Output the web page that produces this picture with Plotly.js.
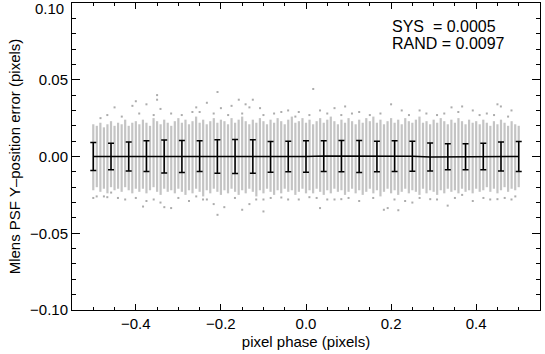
<!DOCTYPE html>
<html>
<head>
<meta charset="utf-8">
<script src="https://cdn.plot.ly/plotly-3.0.1.min.js"></script>
<style>
  html, body { margin: 0; padding: 0; background: #fff; }
  #plot { width: 545px; height: 354px; }
</style>
</head>
<body>
<div id="plot"></div>
<script>
// PSF Y-position error vs pixel phase

// binned means with error bars
var barX = [-0.5, -0.4583, -0.4167, -0.375, -0.3333, -0.2917, -0.25, -0.2083, -0.1667, -0.125, -0.0833, -0.0417,
    0, 0.0417, 0.0833, 0.125, 0.1667, 0.2083, 0.25, 0.2917, 0.3333, 0.375, 0.4167, 0.4583, 0.5];
var barMean = [0, 0, 0, 0.0002, 0, 0, 0.0002, 0, 0, 0, -0.0002, 0,
    0, 0.0003, 0.0003, 0, 0, 0.0003, 0.0002, -0.0003, -0.0002, -0.0002, 0, 0, 0];
var barErr = [0.0091, 0.0087, 0.0094, 0.0100, 0.0107, 0.0104, 0.0100, 0.0109, 0.0111, 0.0109, 0.0100, 0.0100,
    0.0102, 0.0100, 0.0102, 0.0104, 0.0100, 0.0100, 0.0098, 0.0091, 0.0085, 0.0085, 0.0087, 0.0094, 0.0098];

// gray columns of individual measurements (dense extent per phase)
var colX = [
    -0.5, -0.4917, -0.4833, -0.475, -0.4667, -0.4583,
    -0.45, -0.4417, -0.4333, -0.425, -0.4167, -0.4083,
    -0.4, -0.3917, -0.3833, -0.375, -0.3667, -0.3583,
    -0.35, -0.3417, -0.3333, -0.325, -0.3167, -0.3083,
    -0.3, -0.2917, -0.2833, -0.275, -0.2667, -0.2583,
    -0.25, -0.2417, -0.2333, -0.225, -0.2167, -0.2083,
    -0.2, -0.1917, -0.1833, -0.175, -0.1667, -0.1583,
    -0.15, -0.1417, -0.1333, -0.125, -0.1167, -0.1083,
    -0.1, -0.0917, -0.0833, -0.075, -0.0667, -0.0583,
    -0.05, -0.0417, -0.0333, -0.025, -0.0167, -0.0083,
    0, 0.0083, 0.0167, 0.025, 0.0333, 0.0417,
    0.05, 0.0583, 0.0667, 0.075, 0.0833, 0.0917,
    0.1, 0.1083, 0.1167, 0.125, 0.1333, 0.1417,
    0.15, 0.1583, 0.1667, 0.175, 0.1833, 0.1917,
    0.2, 0.2083, 0.2167, 0.225, 0.2333, 0.2417,
    0.25, 0.2583, 0.2667, 0.275, 0.2833, 0.2917,
    0.3, 0.3083, 0.3167, 0.325, 0.3333, 0.3417,
    0.35, 0.3583, 0.3667, 0.375, 0.3833, 0.3917,
    0.4, 0.4083, 0.4167, 0.425, 0.4333, 0.4417,
    0.45, 0.4583, 0.4667, 0.475, 0.4833, 0.4917,
    0.5];
var colHi = [
    0.021, 0.020, 0.022, 0.019, 0.021, 0.023, 0.020, 0.022, 0.021, 0.024, 0.020, 0.022, 0.023,
    0.021, 0.024, 0.022, 0.020, 0.025, 0.023, 0.021, 0.024, 0.022, 0.020, 0.023, 0.025,
    0.022, 0.024, 0.021, 0.023, 0.026, 0.022, 0.024, 0.021, 0.023, 0.025, 0.022, 0.024,
    0.023, 0.021, 0.025, 0.022, 0.024, 0.026, 0.023, 0.021, 0.024, 0.022, 0.025, 0.023,
    0.021, 0.024, 0.022, 0.025, 0.023, 0.021, 0.024, 0.026, 0.022, 0.023, 0.025, 0.022,
    0.024, 0.021, 0.023, 0.025, 0.022, 0.024, 0.026, 0.023, 0.021, 0.024, 0.022, 0.025,
    0.023, 0.021, 0.024, 0.022, 0.025, 0.023, 0.026, 0.022, 0.024, 0.021, 0.023, 0.025,
    0.022, 0.024, 0.021, 0.025, 0.023, 0.022, 0.024, 0.026, 0.022, 0.023, 0.021, 0.024,
    0.022, 0.025, 0.023, 0.021, 0.024, 0.022, 0.025, 0.023, 0.021, 0.024, 0.022, 0.023,
    0.021, 0.024, 0.022, 0.020, 0.023, 0.021, 0.024, 0.022, 0.020, 0.023, 0.021, 0.020];
var colLo = [
    -0.022, -0.020, -0.023, -0.021, -0.024, -0.020, -0.022, -0.021, -0.023, -0.020, -0.022, -0.024, -0.021,
    -0.023, -0.021, -0.024, -0.022, -0.020, -0.023, -0.025, -0.021, -0.023, -0.022, -0.024, -0.021,
    -0.023, -0.025, -0.022, -0.024, -0.021, -0.023, -0.026, -0.022, -0.024, -0.021, -0.023, -0.025,
    -0.022, -0.024, -0.021, -0.023, -0.025, -0.022, -0.024, -0.021, -0.023, -0.026, -0.022, -0.024,
    -0.021, -0.023, -0.025, -0.022, -0.024, -0.021, -0.023, -0.022, -0.025, -0.023, -0.021, -0.024,
    -0.022, -0.024, -0.021, -0.023, -0.025, -0.022, -0.024, -0.021, -0.023, -0.022, -0.025, -0.023,
    -0.021, -0.024, -0.022, -0.025, -0.023, -0.021, -0.024, -0.022, -0.026, -0.023, -0.021, -0.024,
    -0.022, -0.025, -0.023, -0.021, -0.024, -0.022, -0.023, -0.025, -0.021, -0.024, -0.022, -0.023,
    -0.025, -0.022, -0.024, -0.021, -0.023, -0.022, -0.024, -0.021, -0.023, -0.022, -0.024, -0.021,
    -0.023, -0.022, -0.020, -0.023, -0.021, -0.024, -0.022, -0.020, -0.023, -0.021, -0.022, -0.020];

// scattered points outside the dense band
var outTopX = [-0.45, -0.408, -0.4, -0.375, -0.35, -0.35, -0.342, -0.258, -0.25, -0.233, -0.208, -0.2,
    -0.175, -0.158, -0.142, -0.133, -0.125, -0.108, -0.058, -0.042, -0.017, 0.017, 0.033, 0.067,
    0.092, 0.125, 0.2, 0.225, 0.267, 0.342, 0.367, 0.392, 0.45, 0.458, 0.483,
    -0.483, -0.467, -0.433, -0.392, -0.358, -0.317, -0.292, -0.267, -0.217, -0.183, -0.15, -0.1,
    -0.075, -0.025, 0.008, 0.05, 0.083, 0.108, 0.15, 0.175, 0.242, 0.283, 0.308, 0.325,
    0.358, 0.408, 0.425, 0.442, 0.475];
var outTopY = [0.032, 0.033, 0.036, 0.034, 0.040, 0.037, 0.031, 0.032, 0.029, 0.035, 0.042, 0.0315,
    0.033, 0.037, 0.034, 0.032, 0.037, 0.0315, 0.029, 0.030, 0.029, 0.044, 0.030, 0.0315,
    0.0326, 0.029, 0.034, 0.030, 0.030, 0.032, 0.0326, 0.030, 0.034, 0.0326, 0.030,
    0.025, 0.027, 0.026, 0.028, 0.027, 0.028, 0.027, 0.029, 0.028, 0.027, 0.028, 0.027,
    0.028, 0.026, 0.027, 0.028, 0.027, 0.028, 0.027, 0.028, 0.027, 0.028, 0.027, 0.028,
    0.029, 0.027, 0.028, 0.027, 0.026];
var outBotX = [-0.5, -0.492, -0.467, -0.458, -0.383, -0.375, -0.342, -0.333, -0.317, -0.258, -0.242, -0.217,
    -0.208, -0.192, -0.15, -0.133, -0.1, -0.1, -0.058, -0.017, 0.008, 0.033, 0.067, 0.083,
    0.183, 0.192, 0.217, 0.25, 0.292, 0.333, 0.367, 0.45, 0.483, 0.492,
    -0.475, -0.442, -0.425, -0.4, -0.358, -0.3, -0.275, -0.233, -0.167, -0.117, -0.083, -0.042,
    0.025, 0.05, 0.1, 0.125, 0.158, 0.208, 0.233, 0.267, 0.308, 0.35, 0.392, 0.417, 0.433, 0.467];
var outBotY = [-0.027, -0.026, -0.0265, -0.0235, -0.0326, -0.029, -0.030, -0.033, -0.0336, -0.026, -0.028, -0.031,
    -0.038, -0.033, -0.0347, -0.031, -0.0358, -0.028, -0.0267, -0.028, -0.0265, -0.0336, -0.028, -0.0278,
    -0.0347, -0.0336, -0.035, -0.030, -0.0278, -0.032, -0.025, -0.0278, -0.028, -0.026,
    -0.026, -0.027, -0.028, -0.027, -0.028, -0.027, -0.029, -0.028, -0.027, -0.028, -0.027, -0.028,
    -0.027, -0.028, -0.027, -0.029, -0.027, -0.028, -0.029, -0.027, -0.028, -0.027, -0.029, -0.027, -0.028, -0.027];

var yTickVals = [-0.1, -0.05, 0, 0.05, 0.1];
var yTickText = ['\u22120.10', '\u22120.05', '0.00', '0.05', ''];

// vertical segments, one per column
var segX = [], segY = [];
for (var i = 0; i < colX.length; i++) {
    segX.push(colX[i], colX[i], null);
    segY.push(colLo[i], colHi[i], null);
}

var columns = {
    x: segX,
    y: segY,
    mode: 'lines',
    type: 'scatter',
    line: { color: '#c4c4c4', width: 2.2 },
    hoverinfo: 'skip'
};

var scatterPts = {
    x: outTopX.concat(outBotX),
    y: outTopY.concat(outBotY),
    mode: 'markers',
    type: 'scatter',
    marker: { color: '#acacac', size: 2, symbol: 'square' }
};

var means = {
    x: barX,
    y: barMean,
    mode: 'lines',
    type: 'scatter',
    line: { color: 'black', width: 1.5 },
    error_y: { type: 'data', array: barErr, color: 'black', thickness: 1.5, width: 3 }
};

var fnt = { family: 'Liberation Sans, Arial, sans-serif', size: 15, color: 'black' };
var noteFont = { family: 'Liberation Sans, Arial, sans-serif', size: 16, color: 'black' };

var layout = {
    width: 545,
    height: 354,
    margin: { l: 72, r: 5, t: 3, b: 44 },
    showlegend: false,
    paper_bgcolor: 'white',
    plot_bgcolor: 'white',
    font: fnt,
    xaxis: {
        range: [-0.55, 0.55],
        tick0: 0,
        dtick: 0.2,
        tickformat: '.1f',
        ticks: 'inside',
        ticklen: 6,
        tickcolor: 'black',
        minor: { dtick: 0.05, tick0: 0, ticks: 'inside', ticklen: 3, tickcolor: 'black' },
        showline: true,
        linecolor: 'black',
        linewidth: 1,
        mirror: 'allticks',
        showgrid: false,
        zeroline: false,
        title: { text: 'pixel phase (pixels)', font: fnt, standoff: 5 }
    },
    yaxis: {
        range: [-0.1, 0.1],
        tickmode: 'array',
        tickvals: yTickVals,
        ticktext: yTickText,
        ticks: 'inside',
        ticklen: 8,
        tickcolor: 'black',
        minor: { dtick: 0.01, tick0: 0, ticks: 'inside', ticklen: 4, tickcolor: 'black' },
        showline: true,
        linecolor: 'black',
        linewidth: 1,
        mirror: 'allticks',
        showgrid: false,
        zeroline: false,
        title: { text: 'Mlens PSF Y\u2013position error (pixels)', font: fnt, standoff: 5 }
    },
    annotations: [
        {
            xref: 'x', yref: 'y', x: 0.198, y: 0.0845,
            xanchor: 'left', yanchor: 'middle', showarrow: false,
            text: 'SYS\u00a0\u00a0= 0.0005', font: noteFont
        },
        {
            xref: 'x', yref: 'y', x: 0.198, y: 0.0735,
            xanchor: 'left', yanchor: 'middle', showarrow: false,
            text: 'RAND = 0.0097', font: noteFont
        },
        {
            xref: 'paper', yref: 'paper', x: 0, y: 1, xshift: -6, yshift: -5,
            xanchor: 'right', yanchor: 'middle', showarrow: false,
            text: '0.10', font: fnt
        }
    ]
};

Plotly.newPlot('plot', [columns, scatterPts, means], layout, { displayModeBar: false, staticPlot: true });
</script>
</body>
</html>
